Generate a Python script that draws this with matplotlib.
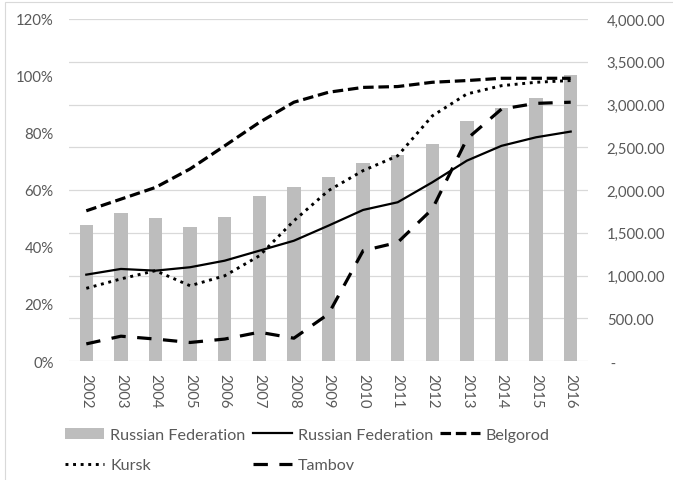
import matplotlib.pyplot as plt
from matplotlib.patches import Rectangle
from matplotlib.ticker import FuncFormatter, MultipleLocator

years = ["2002", "2003", "2004", "2005", "2006", "2007", "2008", "2009",
         "2010", "2011", "2012", "2013", "2014", "2015", "2016"]

# bars, right axis
russia_bars = [1594, 1731, 1669, 1564, 1681, 1926, 2031, 2156,
               2316, 2409, 2542, 2803, 2959, 3072, 3345]

# lines, left axis (share)
russia_line = [0.303, 0.323, 0.317, 0.329, 0.352, 0.387, 0.422, 0.475,
               0.530, 0.557, 0.627, 0.703, 0.755, 0.785, 0.805]
belgorod = [0.527, 0.568, 0.609, 0.674, 0.755, 0.837, 0.908, 0.943,
            0.960, 0.963, 0.978, 0.984, 0.992, 0.992, 0.992]
kursk = [0.255, 0.288, 0.317, 0.264, 0.299, 0.369, 0.492, 0.598,
         0.668, 0.720, 0.860, 0.937, 0.966, 0.978, 0.984]
tambov = [0.060, 0.087, 0.077, 0.065, 0.077, 0.101, 0.080, 0.165,
          0.387, 0.416, 0.533, 0.779, 0.884, 0.904, 0.908]

plt.rcParams['font.family'] = ['Lato', 'DejaVu Sans']
grey_text = "#595959"

fig = plt.figure(figsize=(6.73, 4.81), dpi=100)
ax = fig.add_axes([69 / 673, 1 - 362 / 481, 519 / 673, 342 / 481])
ax2 = ax.twinx()

x = list(range(len(years)))

# bars go on the right axis, drawn behind the lines
ax2.bar(x, russia_bars, width=0.39, color="#BDBDBD", label="Russian Federation", zorder=1)
ax2.set_ylim(0, 4000)
ax2.yaxis.set_major_locator(MultipleLocator(500))
ax2.yaxis.set_major_formatter(FuncFormatter(lambda v, p: " -" if v == 0 else "{:,.2f}".format(v)))

ax.set_zorder(ax2.get_zorder() + 1)
ax.patch.set_visible(False)

l1, = ax.plot(x, russia_line, color="black", lw=1.6, label="Russian Federation")
l2, = ax.plot(x, belgorod, color="black", lw=2.3, dashes=(3.3, 1.5), label="Belgorod")
l3, = ax.plot(x, kursk, color="black", lw=2.1, dashes=(1, 1.6), label="Kursk")
l4, = ax.plot(x, tambov, color="black", lw=2.3, dashes=(4.5, 3.6), label="Tambov")

ax.set_ylim(0, 1.2)
ax.yaxis.set_major_locator(MultipleLocator(0.2))
ax.yaxis.set_major_formatter(FuncFormatter(lambda v, p: "{:.0f}%".format(v * 100)))
ax.set_xlim(-0.5, len(years) - 0.5)
ax.set_xticks(x)
ax.set_xticklabels(years, rotation=270)

# gridlines only, no frame
ax2.grid(axis="y", color="#D9D9D9", lw=0.9)
ax2.set_axisbelow(True)
for a in (ax, ax2):
    for s in a.spines.values():
        s.set_visible(False)
ax.tick_params(axis="y", length=0, pad=11, labelsize=10.7, labelcolor=grey_text)
ax.tick_params(axis="x", length=0, pad=9, labelsize=10.7, labelcolor=grey_text)
ax2.tick_params(axis="y", length=0, pad=13.5, labelsize=10.7, labelcolor=grey_text)

# legend: 3 columns, two rows
bars_handle = ax2.containers[0]
handles = [bars_handle, l3, l1, l4, l2]
labels = [h.get_label() for h in handles]
leg = fig.legend(handles, labels, ncol=3, loc="center left", bbox_to_anchor=(65 / 673, 1 - 451 / 481),
                 frameon=False, fontsize=11.6, handlelength=2.45, handletextpad=0.35,
                 columnspacing=0.45, labelspacing=1.0, borderpad=0, borderaxespad=0)
for t in leg.get_texts():
    t.set_color(grey_text)

# light chart border
fig.add_artist(Rectangle((5 / 673, -0.1), 1.2, 1.1 - 3 / 481, fill=False,
                         edgecolor="#D9D9D9", lw=0.8))

plt.savefig("out.png", dpi=100)
